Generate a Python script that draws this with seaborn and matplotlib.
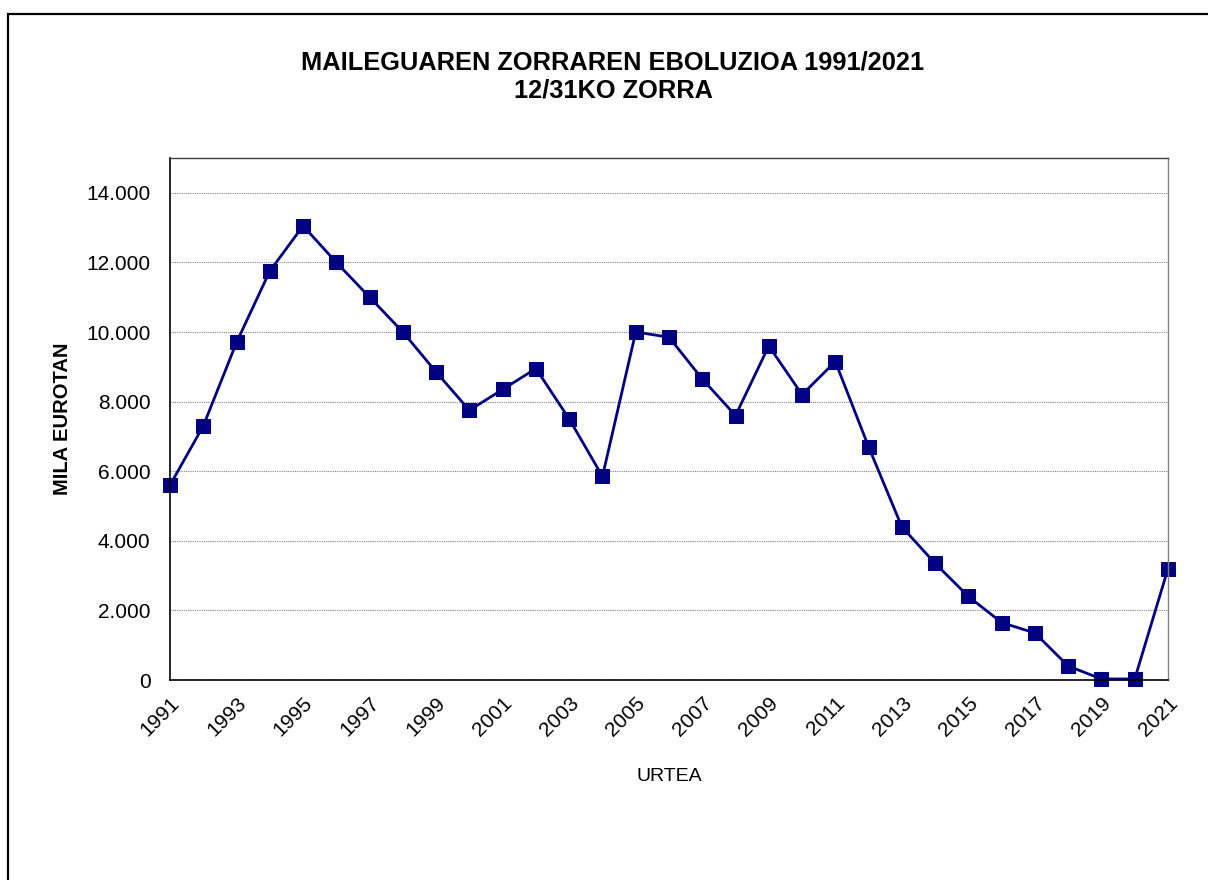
import matplotlib
matplotlib.use("Agg")
import matplotlib.pyplot as plt
import matplotlib.patches as patches
import seaborn as sns
import pandas as pd
import numpy as np

years = list(range(1991, 2022))
debt = [5600, 7300, 9700, 11750, 13050, 12000, 11000, 10000, 8850, 7750,
        8350, 8950, 7500, 5850, 10000, 9850, 8650, 7600, 9600, 8200,
        9150, 6700, 4400, 3350, 2400, 1650, 1350, 400, 30, 30, 3200]
yticks = [0, 2000, 4000, 6000, 8000, 10000, 12000, 14000]
title_lines = ["MAILEGUAREN ZORRAREN EBOLUZIOA 1991/2021", "12/31KO ZORRA"]
xlabel = "URTEA"
ylabel = "MILA EUROTAN"

df = pd.DataFrame({"year": years, "debt": debt})

sns.set_theme(style="white")
plt.rcParams['font.family'] = ['Liberation Sans', 'DejaVu Sans']

fig = plt.figure(figsize=(12.08, 8.8), dpi=100)
ax = fig.add_axes([170/1208, 1-680/880, (1168-170)/1208, (680-158)/880])

sns.lineplot(data=df, x="year", y="debt", ax=ax, color="#000080", linewidth=2.0,
             marker="s", markersize=10, markeredgecolor="#000080", clip_on=False)

ax.set_xlim(1991, 2021)
ax.set_ylim(0, 15000)
ax.set_yticks(yticks)
ax.set_yticklabels([f"{v:,}".replace(",", ".") for v in yticks], fontsize=15)
ax.set_xticks(years)
ax.set_xticklabels([str(y) if (y - 1991) % 2 == 0 else "" for y in years],
                   rotation=45, ha="right", rotation_mode="anchor", fontsize=15)
ax.tick_params(axis="x", direction="inout", length=12, width=1, colors="black", pad=4)
ax.tick_params(axis="y", direction="out", length=6, width=1, colors="black", pad=8)
for lab in ax.get_xticklabels():
    lab.set_color("black")
for lab in ax.get_yticklabels():
    lab.set_color("black")

ax.yaxis.grid(True, linestyle=(0, (1, 1)), color="#808080", linewidth=0.8)
ax.xaxis.grid(False)
ax.set_axisbelow(True)

for s in ["left", "bottom"]:
    ax.spines[s].set_color("black")
    ax.spines[s].set_linewidth(1.2)
ax.spines["top"].set_color("#404040")
ax.spines["top"].set_linewidth(1)
ax.spines["right"].set_color("#808080")
ax.spines["right"].set_linewidth(1)

ax.set_xlabel(xlabel, fontsize=14, labelpad=20, color="black")
ax.set_ylabel(ylabel, fontsize=14.5, fontweight="bold", labelpad=10, color="black")

fig.text(613/1208, 1-62/880, title_lines[0], ha="center", va="center",
         fontsize=18.3, fontweight="bold", color="black")
fig.text(613/1208, 1-90/880, title_lines[1], ha="center", va="center",
         fontsize=18.3, fontweight="bold", color="black")

rect = patches.Rectangle((8/1208, -0.1), 1.2, 1.1 - 14/880,
                         transform=fig.transFigure, fill=False,
                         edgecolor="black", linewidth=1.6, clip_on=False)
fig.patches.append(rect)

fig.savefig("out.png", dpi=100)
